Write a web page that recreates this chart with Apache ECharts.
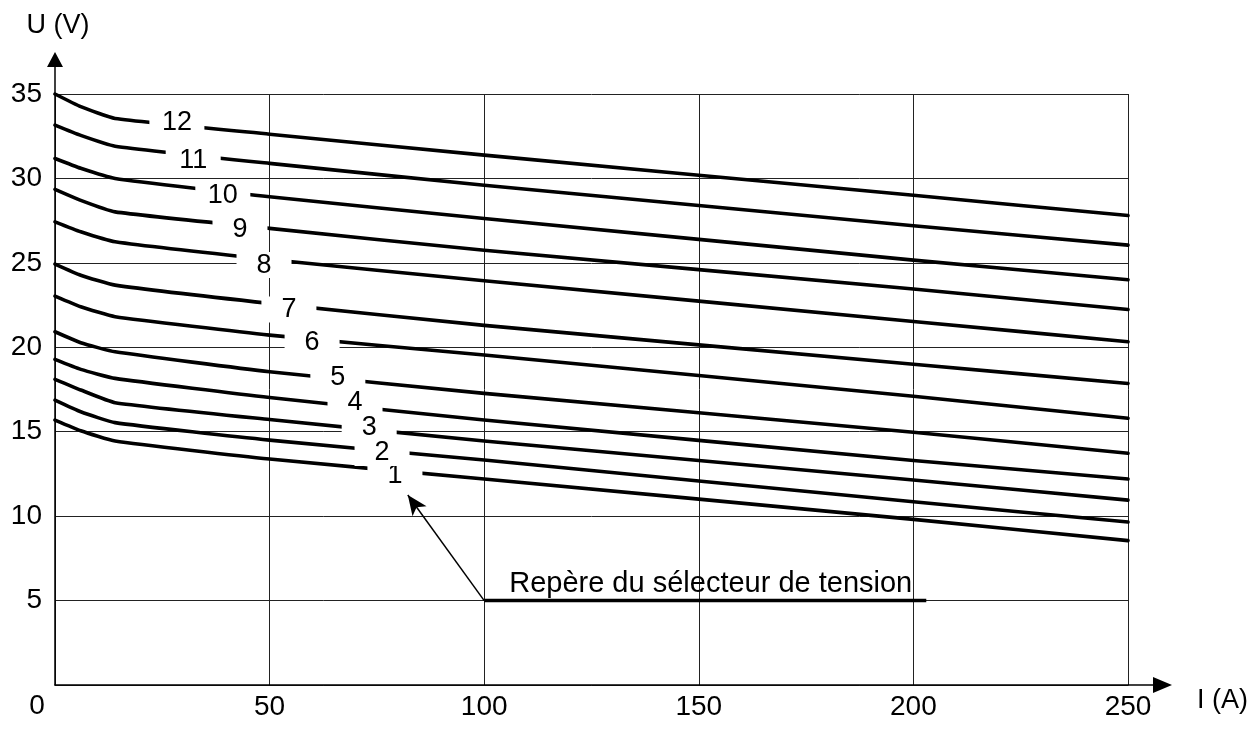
<!DOCTYPE html>
<html>
<head>
<meta charset="utf-8">
<script src="https://cdn.jsdelivr.net/npm/echarts@6/dist/echarts.min.js"></script>
<style>
  html, body { margin: 0; padding: 0; background: #fff; }
  #chart { width: 1256px; height: 731px; }
</style>
</head>
<body>
<div id="chart"></div>
<script>
// courant I (A) où les courbes sont relevées
var currentI = [0, 6, 14, 50, 100, 200, 250];

// tension U (V) pour chaque repère du sélecteur
var u1  = [15.69, 15.06, 14.45, 13.38, 12.20, 9.81, 8.55];
var u2  = [16.87, 16.18, 15.54, 14.50, 13.32, 10.85, 9.65];
var u3  = [18.10, 17.47, 16.72, 15.72, 14.45, 12.14, 10.95];
var u4  = [19.28, 18.69, 18.16, 17.03, 15.69, 13.30, 12.20];
var u5  = [20.92, 20.27, 19.73, 18.55, 17.27, 14.97, 13.72];
var u6  = [23.03, 22.40, 21.81, 20.72, 19.54, 17.10, 15.80];
var u7  = [24.93, 24.27, 23.68, 22.60, 21.30, 19.00, 17.86];
var u8  = [27.43, 26.84, 26.25, 25.20, 23.94, 21.53, 20.33];
var u9  = [29.35, 28.70, 28.02, 27.04, 25.75, 23.45, 22.24];
var u10 = [31.18, 30.60, 30.00, 28.91, 27.63, 25.16, 24.00];
var u11 = [33.16, 32.55, 31.91, 30.89, 29.60, 27.20, 26.05];
var u12 = [35.00, 34.25, 33.55, 32.62, 31.38, 29.00, 27.80];
var curves = [u1, u2, u3, u4, u5, u6, u7, u8, u9, u10, u11, u12];

// étiquettes des courbes (numéro du repère) et leur position
var labelNames = ['1', '2', '3', '4', '5', '6', '7', '8', '9', '10', '11', '12'];
var labelI = [79.2, 76.2, 73.2, 69.9, 65.9, 59.9, 54.5, 48.7, 43.1, 39.1, 32.2, 28.4];
var labelU = [12.43, 13.74, 15.22, 16.70, 18.18, 20.27, 22.24, 24.87, 26.98, 29.00, 31.08, 33.29];

// repère du sélecteur : trait souligné et flèche
var noteText = 'Repère du sélecteur de tension';
var noteLineI = [100, 203];
var noteLineU = [5, 5];
var arrowFrom = [100, 5];
var arrowTo = [82.2, 11.25];

var xTicks = [0, 50, 100, 150, 200, 250];
var yTicks = [0, 5, 10, 15, 20, 25, 30, 35];

var FONT = '"Liberation Sans", Arial, sans-serif';

var chart = echarts.init(document.getElementById('chart'));

var series = [];
curves.forEach(function (u, k) {
  series.push({
    type: 'line',
    name: 'repere' + (k + 1),
    data: currentI.map(function (a, i) { return [a, u[i]]; }),
    showSymbol: false,
    smooth: 0.15,
    lineStyle: { color: '#000', width: 3.6, join: 'round', cap: 'round' },
    z: 3,
    animation: false
  });
});

// souligné + flèche
series.push({
  type: 'line',
  data: noteLineI.map(function (a, i) { return [a, noteLineU[i]]; }),
  showSymbol: false,
  lineStyle: { color: '#000', width: 3.5 },
  z: 4,
  animation: false,
  markLine: {
    silent: true,
    symbol: ['none', 'arrow'],
    symbolSize: [13, 20],
    label: { show: false },
    lineStyle: { color: '#000', width: 1.5, type: 'solid' },
    animation: false,
    data: [[{ coord: arrowFrom }, { coord: arrowTo }]]
  }
});

// texte du repère
series.push({
  type: 'scatter',
  data: [arrowFrom],
  symbolSize: 0,
  z: 6,
  animation: false,
  itemStyle: { opacity: 1 },
  label: {
    show: true,
    formatter: noteText,
    position: [25, -31],
    color: '#000',
    opacity: 1,
    fontFamily: FONT,
    fontSize: 29
  }
});

// numéros des courbes sur fond blanc (coupent les traits)
series.push({
  type: 'scatter',
  data: labelI.map(function (a, i) { return { value: [a, labelU[i]], name: labelNames[i] }; }),
  symbolSize: 0,
  z: 8,
  animation: false,
  itemStyle: { opacity: 1 },
  label: {
    show: true,
    position: 'inside',
    formatter: '{b}',
    color: '#000',
    opacity: 1,
    fontFamily: FONT,
    fontSize: 27,
    lineHeight: 22,
    width: 29,
    align: 'center',
    backgroundColor: '#fff',
    padding: [2, 13]
  }
});

chart.setOption({
  backgroundColor: '#fff',
  animation: false,
  grid: { left: 55, right: 128, top: 94, bottom: 46 },
  xAxis: {
    type: 'value',
    min: xTicks[0],
    max: xTicks[xTicks.length - 1],
    interval: 50,
    axisLine: { show: true, lineStyle: { color: '#000', width: 1.5 } },
    axisTick: { show: false },
    axisLabel: {
      color: '#000', fontFamily: FONT, fontSize: 28, lineHeight: 28, margin: 8,
      formatter: function (v) { return v === 0 ? '' : String(v); }
    },
    splitLine: { show: true, lineStyle: { color: '#222', width: 1 } }
  },
  yAxis: {
    type: 'value',
    min: yTicks[0],
    max: yTicks[yTicks.length - 1],
    interval: 5,
    axisLine: { show: true, lineStyle: { color: '#000', width: 1.5 } },
    axisTick: { show: false },
    axisLabel: {
      color: '#000', fontFamily: FONT, fontSize: 28, margin: 13,
      formatter: function (v) { return v === 0 ? '' : String(v); }
    },
    splitLine: { show: true, lineStyle: { color: '#222', width: 1 } }
  },
  series: series
});

// flèches des axes, noms des axes et le "0" commun
var o = chart.convertToPixel({ gridIndex: 0 }, [0, 0]);
var yEnd = chart.convertToPixel({ gridIndex: 0 }, [0, 35]);
var xEnd = chart.convertToPixel({ gridIndex: 0 }, [250, 0]);
chart.setOption({
  graphic: [
    { type: 'line', shape: { x1: yEnd[0], y1: yEnd[1], x2: yEnd[0], y2: yEnd[1] - 28 }, style: { stroke: '#000', lineWidth: 1.5 } },
    { type: 'polygon', shape: { points: [[yEnd[0], yEnd[1] - 42], [yEnd[0] - 8, yEnd[1] - 27], [yEnd[0] + 8, yEnd[1] - 27]] }, style: { fill: '#000' } },
    { type: 'line', shape: { x1: xEnd[0], y1: xEnd[1], x2: xEnd[0] + 26, y2: xEnd[1] }, style: { stroke: '#000', lineWidth: 1.5 } },
    { type: 'polygon', shape: { points: [[xEnd[0] + 25, xEnd[1] - 8], [xEnd[0] + 25, xEnd[1] + 8], [xEnd[0] + 44, xEnd[1]]] }, style: { fill: '#000' } },
    { type: 'text', x: yEnd[0] + 3, y: yEnd[1] - 68, style: { text: 'U (V)', fill: '#000', font: '27px ' + FONT, textAlign: 'center', textVerticalAlign: 'middle' } },
    { type: 'text', x: xEnd[0] + 69, y: xEnd[1] + 16, style: { text: 'I (A)', fill: '#000', font: '27px ' + FONT, textAlign: 'left', textVerticalAlign: 'middle' } },
    { type: 'text', x: o[0] - 18, y: o[1] + 21, style: { text: '0', fill: '#000', font: '28px ' + FONT, textAlign: 'center', textVerticalAlign: 'middle' } }
  ]
});
</script>
</body>
</html>
